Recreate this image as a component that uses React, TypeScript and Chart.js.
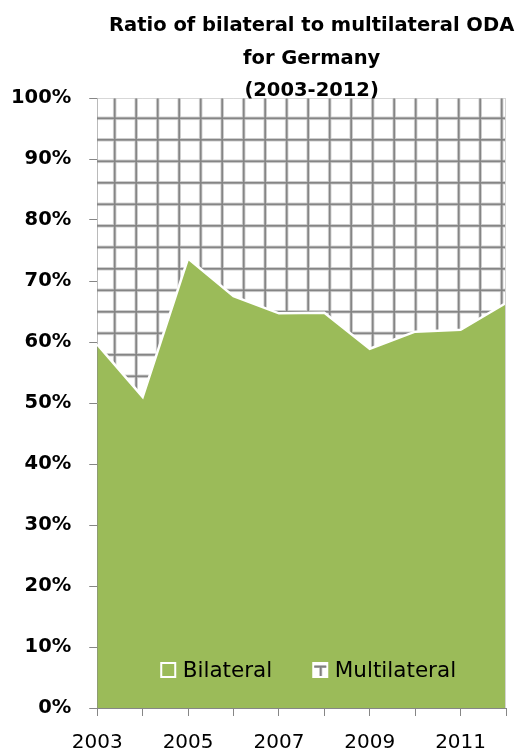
import React, { useEffect, useRef } from 'react';
import { Chart, registerables } from 'chart.js';

Chart.register(...registerables);

const years = ['2003', '2004', '2005', '2006', '2007', '2008', '2009', '2010', '2011', '2012'];
const bilateral = [59.6, 51.0, 73.7, 67.5, 64.7, 64.8, 58.9, 61.7, 62.0, 66.4];
const multilateral = [40.4, 49.0, 26.3, 32.5, 35.3, 35.2, 41.1, 38.3, 38.0, 33.6];
const titleLines = ['Ratio of bilateral to multilateral ODA', 'for Germany', '(2003-2012)'];
const seriesNames = ['Bilateral', 'Multilateral'];

const GREEN = '#9BBB59';
const AXIS = '#868686';
const FONT = 'DejaVu Sans';

function makePattern(): CanvasPattern | string {
  const c = document.createElement('canvas');
  c.width = 43;
  c.height = 43;
  const g = c.getContext('2d');
  if (!g) return '#ffffff';
  g.fillStyle = '#ffffff';
  g.fillRect(0, 0, 43, 43);
  const vx = [7.2, 28.7];
  const hy = [10.8, 32.3];
  const drawLines = (color: string, w: number) => {
    g.fillStyle = color;
    for (const x of vx) g.fillRect(x - w / 2, 0, w, 43);
    for (const y of hy) g.fillRect(0, y - w / 2, 43, w);
  };
  drawLines('#d6d6d6', 3.6);
  drawLines('#858585', 1.8);
  const ctx = document.createElement('canvas').getContext('2d');
  const p = ctx ? ctx.createPattern(c, 'repeat') : null;
  return p || '#ffffff';
}

const decorPlugin = {
  id: 'decor',
  afterDatasetsDraw(chart: any) {
    const { ctx, chartArea } = chart;
    ctx.save();
    ctx.strokeStyle = '#d4d4d4';
    ctx.lineWidth = 1;
    ctx.beginPath();
    ctx.moveTo(chartArea.right - 0.5, chartArea.top);
    ctx.lineTo(chartArea.right - 0.5, chartArea.bottom);
    ctx.stroke();
    ctx.restore();
  },
  afterDraw(chart: any) {
    const { ctx, chartArea } = chart;
    ctx.save();
    // title
    ctx.fillStyle = '#000000';
    ctx.font = `bold 19.5px "${FONT}"`;
    ctx.textAlign = 'center';
    ctx.textBaseline = 'alphabetic';
    const cx = (chartArea.left + chartArea.right) / 2 + 10;
    const baselines = [31, 63.5, 96];
    titleLines.forEach((t, i) => ctx.fillText(t, cx, baselines[i]));

    // legend inside plot area
    const datasets = chart.data.datasets;
    ctx.font = `21.5px "${FONT}"`;
    ctx.textAlign = 'left';
    ctx.textBaseline = 'middle';
    const box = 16;
    const gapBox = 6.5;
    const gapItem = 40;
    let x = chartArea.left + 63;
    const yc = chartArea.bottom - 38;
    datasets.forEach((d: any, i: number) => {
      const bx = x;
      const by = yc - box / 2;
      if (i === 0) {
        ctx.fillStyle = GREEN;
        ctx.fillRect(bx, by, box, box);
        ctx.strokeStyle = '#ffffff';
        ctx.lineWidth = 2;
        ctx.strokeRect(bx + 1, by + 1, box - 2, box - 2);
      } else {
        ctx.fillStyle = '#ffffff';
        ctx.fillRect(bx, by, box, box);
        ctx.fillStyle = '#b8b8b8';
        ctx.fillRect(bx + 2, by + 3, box - 4, 3);
        ctx.fillRect(bx + 7, by + 3, 3, box - 5);
        ctx.fillStyle = '#808080';
        ctx.fillRect(bx + 2, by + 4, box - 4, 1.5);
        ctx.fillRect(bx + 7.7, by + 4, 1.5, box - 6);
      }
      ctx.fillStyle = '#000000';
      ctx.fillText(d.label, bx + box + gapBox, yc + 1);
      x += box + gapBox + ctx.measureText(d.label).width + gapItem;
    });
    ctx.restore();
  },
};

export default function App() {
  const ref = useRef<HTMLCanvasElement | null>(null);
  useEffect(() => {
    if (!ref.current) return;
    const pattern = makePattern();
    const chart = new Chart(ref.current, {
      type: 'line',
      data: {
        labels: years,
        datasets: [
          {
            label: seriesNames[0],
            data: bilateral,
            fill: 'origin',
            backgroundColor: GREEN,
            borderColor: '#ffffff',
            borderWidth: 2.5,
            pointRadius: 0,
            tension: 0,
          },
          {
            label: seriesNames[1],
            data: multilateral,
            fill: '-1',
            backgroundColor: pattern as any,
            borderColor: '#c8c8c8',
            borderWidth: 1,
            pointRadius: 0,
            tension: 0,
          },
        ],
      },
      options: {
        animation: false,
        responsive: false,
        maintainAspectRatio: false,
        layout: { padding: { top: 98, left: -7, right: 13, bottom: -16 } },
        plugins: {
          legend: { display: false },
          title: { display: false },
          tooltip: { enabled: false },
        },
        scales: {
          x: {
            type: 'category',
            offset: false,
            afterFit: (scale: any) => {
              scale.paddingRight = 0;
            },
            grid: { drawOnChartArea: false, drawTicks: true, tickLength: 8, color: AXIS, lineWidth: 1 },
            border: { display: true, color: AXIS, width: 1 },
            ticks: {
              autoSkip: false,
              maxRotation: 0,
              minRotation: 0,
              padding: 15,
              color: '#000000',
              font: { family: FONT, size: 20 },
              callback: function (this: any, v: any, i: number) {
                return i % 2 === 0 ? years[i] : '';
              },
            },
          },
          y: {
            stacked: true,
            min: 0,
            max: 100,
            grid: { drawOnChartArea: false, drawTicks: true, tickLength: 8, color: AXIS, lineWidth: 1 },
            border: { display: true, color: AXIS, width: 1 },
            ticks: {
              stepSize: 10,
              padding: 18,
              color: '#000000',
              font: { family: FONT, size: 19.5, weight: 'bold' },
              callback: (v: any) => `${v}%`,
            },
          },
        },
      },
      plugins: [decorPlugin],
    });
    return () => chart.destroy();
  }, []);
  return (
    <div style={{ position: 'absolute', left: 0, top: 0, width: 519, height: 754 }}>
      <canvas ref={ref} width={519} height={754} style={{ display: 'block', width: 519, height: 754 }} />
    </div>
  );
}
